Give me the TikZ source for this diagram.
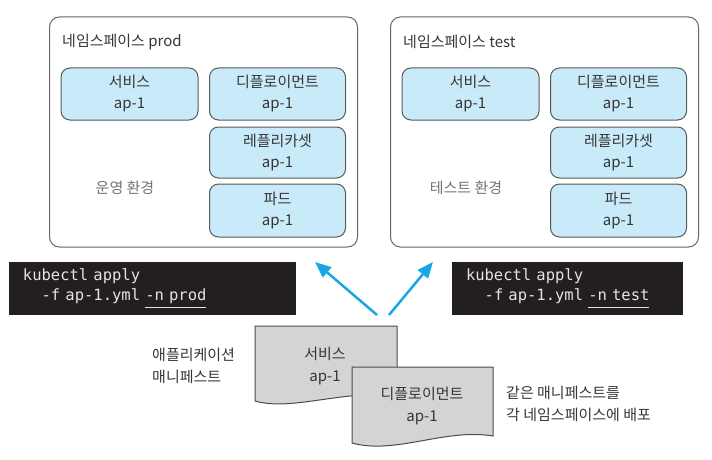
\documentclass[tikz,border=0pt]{standalone}
\usepackage{fontspec}
\setmainfont{Noto Sans CJK KR}
\setmonofont{DejaVu Sans Mono}
\usetikzlibrary{arrows.meta}

\definecolor{boxblue}{HTML}{C9EAF8}
\definecolor{docgray}{HTML}{D4D4D4}
\definecolor{termbg}{HTML}{231F20}
\definecolor{termtext}{HTML}{E4E4E4}
\definecolor{arrowblue}{HTML}{17A8E3}
\definecolor{inktext}{HTML}{363636}

% underline for the -n flag, full-width spaces for the terminal font
\newcommand{\nsflag}[1]{\setbox0\hbox{#1}\rlap{\rule[-7pt]{\wd0}{1.4pt}}\box0}
\newcommand{\termspacing}{\setbox0\hbox{x}\spaceskip=\wd0\relax}

\begin{document}
\begin{tikzpicture}[x=1pt, y=-1pt,
    namespace/.style={draw=black!60, line width=1pt, rounded corners=10pt,
        minimum width=308pt, minimum height=230pt, inner sep=0pt},
    resource/.style={draw=black!65, fill=boxblue, line width=1pt, rounded corners=9pt,
        minimum width=136pt, minimum height=52pt, inner sep=0pt, align=center,
        text=inktext, font=\fontsize{15}{21}\selectfont},
    label/.style={text=inktext, font=\fontsize{15}{22}\selectfont, inner sep=0pt},
    cmdbox/.style={fill=termbg, text=termtext, minimum width=287pt, minimum height=53pt,
        inner xsep=14pt, inner ysep=0pt, align=left, text width=259pt,
        font=\ttfamily\fontsize{15.5}{20}\selectfont\termspacing},
    manifest/.style={draw=black!70, fill=docgray, line width=1pt},
    deploy/.style={-{Triangle[length=16pt, width=13pt]}, line width=2.5pt, draw=arrowblue}]
    \useasboundingbox (0,0) rectangle (712,460);

    \foreach \ns/\env/\dx in {prod/운영 환경/0, test/테스트 환경/341} {
        \begin{scope}[shift={(\dx,0)}]
            \node[namespace] (ns-\ns) at (203.5,132) {};
            \node[label, anchor=west] (title-\ns) at (62,42) {네임스페이스 \ns};
            \node[resource, minimum width=137pt] (svc-\ns) at (129.5,94) {서비스\\ap-1};
            \node[resource] (deploy-\ns) at (277.5,94) {디플로이먼트\\ap-1};
            \node[resource, minimum height=51pt] (rs-\ns) at (277.5,152.5) {레플리카셋\\ap-1};
            \node[resource, minimum height=53pt] (pod-\ns) at (277.5,210.5) {파드\\ap-1};
            \node[label, text=black!55] (env-\ns) at (125,188) {\env};
        \end{scope}
    }

    \node[cmdbox] (cmd-prod) at (152.5,288.5) {kubectl apply\\\phantom{xx}-f ap-1.yml \nsflag{-n prod}};
    \node[cmdbox, minimum width=231pt, text width=203pt] (cmd-test) at (567.5,288.5) {kubectl apply\\\phantom{xx}-f ap-1.yml \nsflag{-n test}};

    \coordinate (tail-prod) at (377,315);
    \coordinate (head-prod) at (315,262);
    \coordinate (tail-test) at (389,315);
    \coordinate (head-test) at (433,262);
    \draw[deploy] (tail-prod) -- (head-prod);
    \draw[deploy] (tail-test) -- (head-test);

    % manifest sheets
    \draw[manifest] (255,326) -- (397,326) -- (397,394) .. controls (335,392) and (290,411) .. (255,401) -- cycle;
    \node[label, align=center] (man-svc) at (325,366) {서비스\\ap-1};
    \draw[manifest] (352,367) -- (493,367) -- (493,436) .. controls (445,428) and (395,455) .. (352,443) -- cycle;
    \node[label, align=center] (man-deploy) at (422,406) {디플로이먼트\\ap-1};

    \node[label, align=left, anchor=west] (app-label) at (152,366) {애플리케이션\\매니페스트};
    \node[label, align=left, anchor=west] (same-label) at (506,404) {같은 매니페스트를\\각 네임스페이스에 배포};
\end{tikzpicture}
\end{document}
